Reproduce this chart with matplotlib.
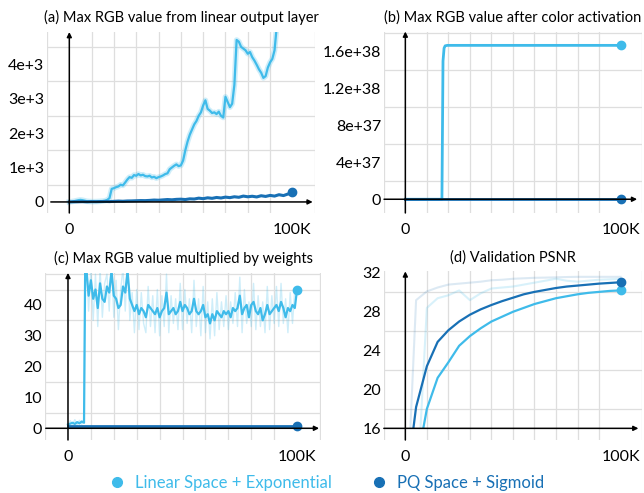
import numpy as np
import matplotlib.pyplot as plt
from matplotlib.lines import Line2D
from matplotlib.patches import Rectangle

LIGHT = '#3fbbea'
DARK = '#1870b5'
LABELS = ['Linear Space + Exponential', 'PQ Space + Sigmoid']

# (a) max RGB value from linear output layer, x in thousands of steps
a_lin_x = list(range(0, 95))
a_lin_y = [0, 10, 20, 35, 50, 60, 50, 35, 20, 15, 10, 10, 12, 15, 20, 25, 35, 60, 110, 380,
           400, 430, 450, 500, 480, 560, 650, 720, 700, 780, 760, 810, 770, 790, 750, 740, 760, 710, 730, 690,
           720, 740, 770, 810, 830, 950, 1000, 1050, 1090, 1040, 1060, 1200, 1500, 1750, 1950, 2100, 2250, 2350, 2500, 2600,
           2800, 2950, 2700, 2650, 2580, 2600, 2550, 2620, 2500, 2450, 3050, 2900, 2750, 2850, 3400, 4700, 4650, 4500, 4450, 4400,
           4300, 4350, 4200, 4100, 3980, 3850, 3750, 3600, 3650, 3900, 4050, 4150, 4400, 5100, 5600]
a_pq_x = list(range(0, 101, 2))
a_pq_y = [0, 5, 5, 8, 5, 10, 8, 12, 15, 10, 18, 25, 20, 28, 30, 35, 40, 38, 45, 55,
          50, 60, 70, 62, 75, 80, 70, 90, 85, 110, 95, 120, 105, 130, 115, 140, 125, 150, 135, 170,
          150, 165, 145, 180, 160, 190, 170, 210, 185, 230, 275]

# (b) max RGB value after color activation
b_lin_x = [0, 17.0, 17.5, 18.0, 18.5, 19.5, 100]
b_lin_y = [0, 0, 1.5e38, 1.64e38, 1.665e38, 1.67e38, 1.67e38]
b_pq_x = [0, 100]
b_pq_y = [0, 0]

# (c) max RGB value multiplied by weights
c_x = sorted(list(range(0, 8)) + [7.5] + list(range(8, 101)))
c_lin_y = [1.2, 1.5, 1.8, 1.4, 2.0, 1.6, 2.2, 1.8, 52, 52, 43, 48, 42, 45, 39, 47, 42, 41, 46, 44,
           51, 43, 42, 39, 40, 46, 44, 51, 42, 40, 38, 40, 37, 39, 38, 36, 40, 39, 38, 37,
           39, 36, 38, 39, 44, 37, 38, 39, 37, 38, 41, 38, 40, 39, 37, 38, 42, 38, 37, 38,
           40, 36, 37, 34, 37, 35, 38, 37, 36, 38, 37, 38, 36, 39, 38, 39, 43, 37, 39, 40,
           36, 40, 41, 38, 37, 39, 35, 37, 40, 37, 38, 39, 40, 38, 41, 39, 36, 39, 38, 40,
           39, 45]
c_lin_raw = [1.0, 2.5, 1.2, 2.8, 1.0, 2.6, 1.3, 2.9, 52, 55, 38, 52, 35, 50, 33, 52, 36, 47, 50, 38,
             55, 36, 48, 32, 45, 52, 38, 55, 35, 44, 31, 45, 32, 44, 34, 31, 46, 33, 43, 31,
             45, 30, 43, 33, 50, 31, 43, 34, 42, 32, 47, 32, 45, 34, 42, 31, 48, 33, 42, 30,
             46, 31, 41, 29, 42, 30, 44, 32, 41, 33, 43, 32, 41, 34, 44, 33, 49, 31, 45, 34,
             41, 33, 47, 32, 43, 33, 41, 31, 46, 32, 43, 34, 46, 33, 47, 34, 42, 31, 44, 34,
             45, 45]
c_pq_x = [0, 100]
c_pq_y = [0.9, 0.9]

# (d) validation PSNR
d_x = list(range(0, 101, 5))
d_lin_y = [8.0, 12.0, 18.0, 21.2, 22.8, 24.5, 25.5, 26.3, 27.0, 27.5, 28.0, 28.4, 28.8, 29.1, 29.4, 29.6,
           29.8, 29.95, 30.05, 30.15, 30.2]
d_pq_y = [9.5, 18.2, 22.4, 24.9, 26.1, 27.0, 27.7, 28.25, 28.7, 29.1, 29.45, 29.8, 30.05, 30.25, 30.45, 30.6,
          30.7, 30.8, 30.9, 30.97, 31.04]
d_lin_raw = [5.0, 7.5, 28.4, 29.4, 29.7, 30.2, 29.2, 29.9, 30.4, 30.5, 30.6, 30.8, 31.0, 31.2, 31.4, 31.2,
             31.1, 31.2, 31.3, 31.35, 31.4]
d_pq_raw = [4.5, 29.2, 30.1, 30.5, 30.8, 30.9, 31.0, 31.1, 31.25, 31.3, 31.4, 31.45, 31.5, 31.52, 31.55, 31.58,
            31.6, 31.6, 31.6, 31.6, 31.6]

plt.rcParams['font.family'] = ['Lato', 'DejaVu Sans']
plt.rcParams['font.size'] = 11.5

fig = plt.figure(figsize=(6.44, 4.93), dpi=100)

panels = [
    dict(rect=[0.073, 0.568, 0.416, 0.367], title='(a) Max RGB value from linear output layer',
         xlim=(-8.3, 110.1), ylim=(-320, 4930), yticks=[0, 1000, 2000, 3000, 4000],
         ylabels=['0', '1e+3', '2e+3', '3e+3', '4e+3'], ygrid=500, x0=0),
    dict(rect=[0.596, 0.568, 0.401, 0.368], title='(b) Max RGB value after color activation',
         xlim=(-9.9, 108.7), ylim=(-1.49e37, 1.82e38), yticks=[0, 4e37, 8e37, 1.2e38, 1.6e38],
         ylabels=['0', '4e+37', '8e+37', '1.2e+38', '1.6e+38'], ygrid=2e37, x0=0),
    dict(rect=[0.070, 0.1075, 0.429, 0.339], title='(c) Max RGB value multiplied by weights',
         xlim=(-9.7, 110.6), ylim=(-3.8, 50.4), yticks=[0, 10, 20, 30, 40],
         ylabels=['0', '10', '20', '30', '40'], ygrid=5, x0=0),
    dict(rect=[0.596, 0.1075, 0.401, 0.342], title='(d) Validation PSNR',
         xlim=(-10, 109.3), ylim=(14.8, 32.16), yticks=[16, 20, 24, 28, 32],
         ylabels=['16', '20', '24', '28', '32'], ygrid=2, x0=16),
]

axes = []
for p in panels:
    ax = fig.add_axes(p['rect'])
    ax.set_xlim(*p['xlim'])
    ax.set_ylim(*p['ylim'])
    for s in ax.spines.values():
        s.set_visible(False)
    ax.set_xticks([0, 100])
    ax.set_xticklabels(['0', '100K'])
    ax.set_yticks(p['yticks'])
    ax.set_yticklabels(p['ylabels'])
    ax.set_xticks(np.arange(-10, 111, 10), minor=True)
    g = p['ygrid']
    ax.set_yticks(np.arange(np.ceil(p['ylim'][0] / g) * g, p['ylim'][1], g), minor=True)
    ax.grid(True, which='minor', color='#dedede', lw=0.9)
    ax.tick_params(which='both', length=0)
    ax.tick_params(axis='y', pad=2)
    ax.tick_params(axis='x', pad=7)
    ax.set_title(p['title'], fontsize=10.5, pad=7)
    ax.set_axisbelow(True)
    arrow = dict(arrowstyle='-|>', color='black', lw=1.1, mutation_scale=7, shrinkA=0, shrinkB=0)
    ax.annotate('', xy=(p['xlim'][1] - 1, p['x0']), xytext=(p['xlim'][0], p['x0']),
                arrowprops=arrow, annotation_clip=False)
    ax.annotate('', xy=(0, p['ylim'][1]), xytext=(0, p['ylim'][0]),
                arrowprops=arrow, annotation_clip=False)
    axes.append(ax)

ax_a, ax_b, ax_c, ax_d = axes

# (a)
ax_a.plot(a_lin_x, a_lin_y, color=LIGHT, lw=4, alpha=0.25)
ax_a.plot(a_lin_x, a_lin_y, color=LIGHT, lw=1.6)
ax_a.plot(a_pq_x, a_pq_y, color=DARK, lw=2.2)
ax_a.plot(a_pq_x[-1], a_pq_y[-1], 'o', color=DARK, ms=6)

# (b)
ax_b.plot(b_lin_x, b_lin_y, color=LIGHT, lw=2)
ax_b.plot(b_pq_x, b_pq_y, color=DARK, lw=2)
ax_b.plot(b_lin_x[-1], b_lin_y[-1], 'o', color=LIGHT, ms=6)
ax_b.plot(b_pq_x[-1], b_pq_y[-1], 'o', color=DARK, ms=6)

# (c)
ax_c.plot(c_x, c_lin_raw, color=LIGHT, lw=1, alpha=0.25)
ax_c.plot(c_x, c_lin_y, color=LIGHT, lw=1.6)
ax_c.plot(c_pq_x, c_pq_y, color=DARK, lw=2)
ax_c.plot(c_x[-1], c_lin_y[-1], 'o', color=LIGHT, ms=6)
ax_c.plot(c_pq_x[-1], c_pq_y[-1], 'o', color=DARK, ms=6)

# (d) curves stop at the x axis (y = 16)
clip = Rectangle((-10, 16), 120, 20, transform=ax_d.transData)
d_lines = []
d_lines += ax_d.plot(d_x, d_lin_raw, color=LIGHT, lw=1.5, alpha=0.2)
d_lines += ax_d.plot(d_x, d_pq_raw, color=DARK, lw=1.5, alpha=0.15)
d_lines += ax_d.plot(d_x, d_lin_y, color=LIGHT, lw=1.6)
d_lines += ax_d.plot(d_x, d_pq_y, color=DARK, lw=1.6)
for ln in d_lines:
    ln.set_clip_path(clip)
ax_d.plot(d_x[-1], d_lin_y[-1], 'o', color=LIGHT, ms=6)
ax_d.plot(d_x[-1], d_pq_y[-1], 'o', color=DARK, ms=6)

handles = [Line2D([], [], ls='none', marker='o', color=c, ms=7) for c in (LIGHT, DARK)]
leg = fig.legend(handles, LABELS, loc='center', bbox_to_anchor=(0.50, 0.02), ncol=2,
                 frameon=False, fontsize=12, handletextpad=0.1, columnspacing=1.8)
for t, c in zip(leg.get_texts(), (LIGHT, DARK)):
    t.set_color(c)

fig.savefig('out.png', dpi=100)
